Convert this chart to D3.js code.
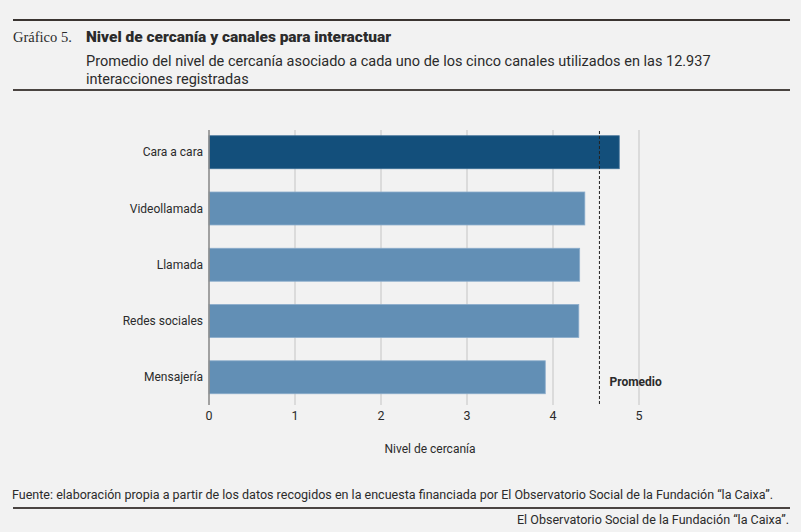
<!DOCTYPE html>
<html>
<head>
<meta charset="utf-8">
<script src="https://cdn.jsdelivr.net/npm/d3@7"></script>
<style>
  html, body { margin: 0; padding: 0; background: #f2f2f2; }
  svg { display: block; }
  text { font-family: Roboto, "Noto Sans", sans-serif; fill: #2b2b2b; }
</style>
</head>
<body>
<div id="chart"></div>
<script>
// --- données ---
const canales = ["Cara a cara", "Videollamada", "Llamada", "Redes sociales", "Mensajería"];
const cercania = [4.77, 4.37, 4.31, 4.30, 3.91];
const promedio = 4.54;
const ticks = [0, 1, 2, 3, 4, 5];

const W = 801, H = 532;
const svg = d3.select("#chart").append("svg")
    .attr("width", W).attr("height", H);

svg.append("rect").attr("width", W).attr("height", H).attr("fill", "#f2f2f2");

// --- en-tête ---
svg.append("line").attr("x1", 13).attr("x2", 790).attr("y1", 20).attr("y2", 20)
    .attr("stroke", "#3a3431").attr("stroke-width", 2);

svg.append("text").attr("x", 13).attr("y", 42)
    .style("font-family", "'Liberation Serif', 'DejaVu Serif', serif")
    .attr("font-size", 14.5).attr("fill", "#333")
    .text("Gráfico 5.");

svg.append("text").attr("x", 86).attr("y", 41.5)
    .attr("font-size", 15.5).attr("font-weight", "900")
    .attr("textLength", 305).attr("lengthAdjust", "spacingAndGlyphs")
    .text("Nivel de cercanía y canales para interactuar");

svg.append("text").attr("x", 86).attr("y", 66)
    .attr("font-size", 14.5).attr("fill", "#333")
    .text("Promedio del nivel de cercanía asociado a cada uno de los cinco canales utilizados en las 12.937");
svg.append("text").attr("x", 86).attr("y", 84)
    .attr("font-size", 14.5).attr("fill", "#333")
    .text("interacciones registradas");

svg.append("line").attr("x1", 13).attr("x2", 790).attr("y1", 90).attr("y2", 90)
    .attr("stroke", "#4a4441").attr("stroke-width", 2);

// --- échelles ---
const x = d3.scaleLinear().domain([0, 5]).range([209, 639]);
const y = d3.scaleBand().domain(canales).range([124.5, 405])
    .paddingInner(0.414).paddingOuter(0.2);

const gridTop = 130, gridBottom = 405;

// grille verticale
svg.append("g").selectAll("line").data(ticks.filter(t => t > 0)).join("line")
    .attr("x1", d => x(d)).attr("x2", d => x(d))
    .attr("y1", gridTop).attr("y2", gridBottom)
    .attr("stroke", "#c4c4c4").attr("stroke-width", 1);

// barres
svg.append("g").selectAll("rect").data(canales).join("rect")
    .attr("x", x(0))
    .attr("y", d => y(d))
    .attr("width", (d, i) => x(cercania[i]) - x(0))
    .attr("height", y.bandwidth())
    .attr("fill", (d, i) => i === 0 ? "#134f7b" : "#628fb5")
    .attr("stroke", (d, i) => i === 0 ? "#3d6f96" : "#8aaccb")
    .attr("stroke-width", 0.8);

// axe gauche
svg.append("line").attr("x1", x(0)).attr("x2", x(0))
    .attr("y1", gridTop).attr("y2", gridBottom)
    .attr("stroke", "#8c8c8c").attr("stroke-width", 1.6);

// ligne de moyenne
svg.append("line").attr("x1", x(promedio)).attr("x2", x(promedio))
    .attr("y1", 131).attr("y2", gridBottom)
    .attr("stroke", "#222").attr("stroke-width", 1)
    .attr("stroke-dasharray", "3,2");

svg.append("text").attr("x", x(promedio) + 10).attr("y", 386)
    .attr("font-size", 12).attr("font-weight", "bold")
    .text("Promedio");

// étiquettes catégories
svg.append("g").selectAll("text").data(canales).join("text")
    .attr("x", 203)
    .attr("y", d => y(d) + y.bandwidth() / 2)
    .attr("dy", "0.35em")
    .attr("text-anchor", "end")
    .attr("font-size", 12)
    .text(d => d);

// axe X
svg.append("g").selectAll("text").data(ticks).join("text")
    .attr("x", d => x(d)).attr("y", 420)
    .attr("text-anchor", "middle")
    .attr("font-size", 12.5)
    .text(d => d);

svg.append("text").attr("x", 430).attr("y", 453)
    .attr("text-anchor", "middle").attr("font-size", 12)
    .text("Nivel de cercanía");

// --- pied ---
svg.append("text").attr("x", 12).attr("y", 499)
    .attr("font-size", 12.5)
    .attr("textLength", 761).attr("lengthAdjust", "spacingAndGlyphs")
    .text("Fuente: elaboración propia a partir de los datos recogidos en la encuesta financiada por El Observatorio Social de la Fundación \u201Cla Caixa\u201D.");

svg.append("line").attr("x1", 13).attr("x2", 790).attr("y1", 508).attr("y2", 508)
    .attr("stroke", "#4a4441").attr("stroke-width", 2.2);

svg.append("text").attr("x", 789).attr("y", 524)
    .attr("text-anchor", "end")
    .attr("font-size", 12.5)
    .attr("textLength", 272).attr("lengthAdjust", "spacingAndGlyphs")
    .text("El Observatorio Social de la Fundación \u201Cla Caixa\u201D.");
</script>
</body>
</html>
